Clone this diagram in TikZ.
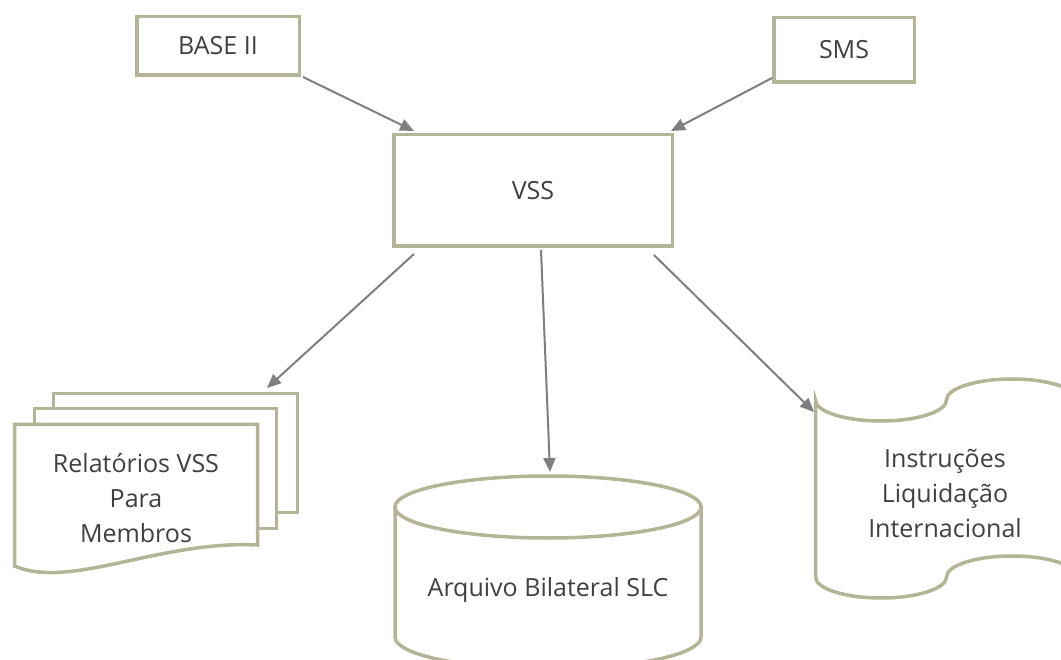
\documentclass[tikz,border=0pt]{standalone}
\usepackage{fontspec}
\setmainfont{Open Sans}
\usetikzlibrary{arrows.meta}
\definecolor{olivec}{HTML}{B5B496}
\definecolor{arrowgray}{HTML}{7F7F7F}
\definecolor{textgray}{HTML}{404040}
\begin{document}
\begin{tikzpicture}[x=1pt,y=-1pt,
  shapeline/.style={draw=olivec, line width=3.5pt, fill=white},
  box/.style={shapeline, text=textgray, inner sep=0pt, font=\fontsize{25}{34}\selectfont},
  lbl/.style={text=textgray, align=center, font=\fontsize{25}{35}\selectfont},
  arr/.style={draw=arrowgray, line width=2pt, -{Triangle[length=14pt,width=12pt]}}]
\fill[white] (0,0) rectangle (1061,660);
\useasboundingbox (0,0) rectangle (1061,660);
\begin{scope}
\clip (0,0) rectangle (1061,660);
% top boxes
\node[box, minimum width=162.5pt, minimum height=58.5pt] (base) at (218,46) {BASE II};
\node[box, minimum width=140.5pt, minimum height=64.5pt] (sms) at (844,50) {SMS};
\node[box, minimum width=278.5pt, minimum height=111.5pt] (vss) at (533,190.5) {VSS};
% multi-document
\draw[shapeline] (53.5,393.5) rectangle (297.5,512.5);
\draw[shapeline] (34.5,408.5) rectangle (276.5,528.5);
\draw[shapeline] (14.5,424.5) -- (257.5,424.5) -- (257.5,545)
  .. controls (160,540) and (70,590) .. (14.5,566) -- cycle;
\node[lbl] (rel) at (136,498) {Relatórios VSS\\Para\\Membros};
% cylinder
\draw[shapeline] (395,507) -- (395,637)
  .. controls (395,654.7) and (463.4,669) .. (548,669)
  .. controls (632.6,669) and (701,654.7) .. (701,637) -- (701,507) -- cycle;
\draw[shapeline] (548,507) ellipse [x radius=153, y radius=31];
\node[lbl] (arq) at (548,590) {Arquivo Bilateral SLC};
% punched tape
\draw[shapeline] (815.5,400)
  .. controls (815.5,411.6) and (844.8,421) .. (881,421)
  .. controls (917.2,421) and (946.5,411.6) .. (946.5,400)
  .. controls (946.5,388.4) and (975.8,379) .. (1012,379)
  .. controls (1048.2,379) and (1077.5,388.4) .. (1077.5,400)
  -- (1077.5,577)
  .. controls (1077.5,565.4) and (1048.2,556) .. (1012,556)
  .. controls (975.8,556) and (946.5,565.4) .. (946.5,577)
  .. controls (946.5,588.6) and (917.2,598) .. (881,598)
  .. controls (844.8,598) and (815.5,588.6) .. (815.5,577) -- cycle;
\node[lbl] (inst) at (945,493) {Instruções\\Liquidação\\Internacional};
% connectors
\coordinate (vssIn1) at (414,131);
\coordinate (vssIn2) at (671,131);
\coordinate (docIn) at (267,388);
\coordinate (cylIn) at (550,472);
\coordinate (tapeIn) at (814,412);
\draw[arr] ([xshift=2pt]base.south east) -- (vssIn1);
\draw[arr] ([yshift=6pt]sms.south west) -- (vssIn2);
\draw[arr] ([xshift=22pt,yshift=-6pt]vss.south west) -- (docIn);
\draw[arr] ([xshift=8pt,yshift=-2pt]vss.south) -- (cylIn);
\draw[arr] ([xshift=-20pt,yshift=-7pt]vss.south east) -- (tapeIn);
\end{scope}
\end{tikzpicture}
\end{document}
